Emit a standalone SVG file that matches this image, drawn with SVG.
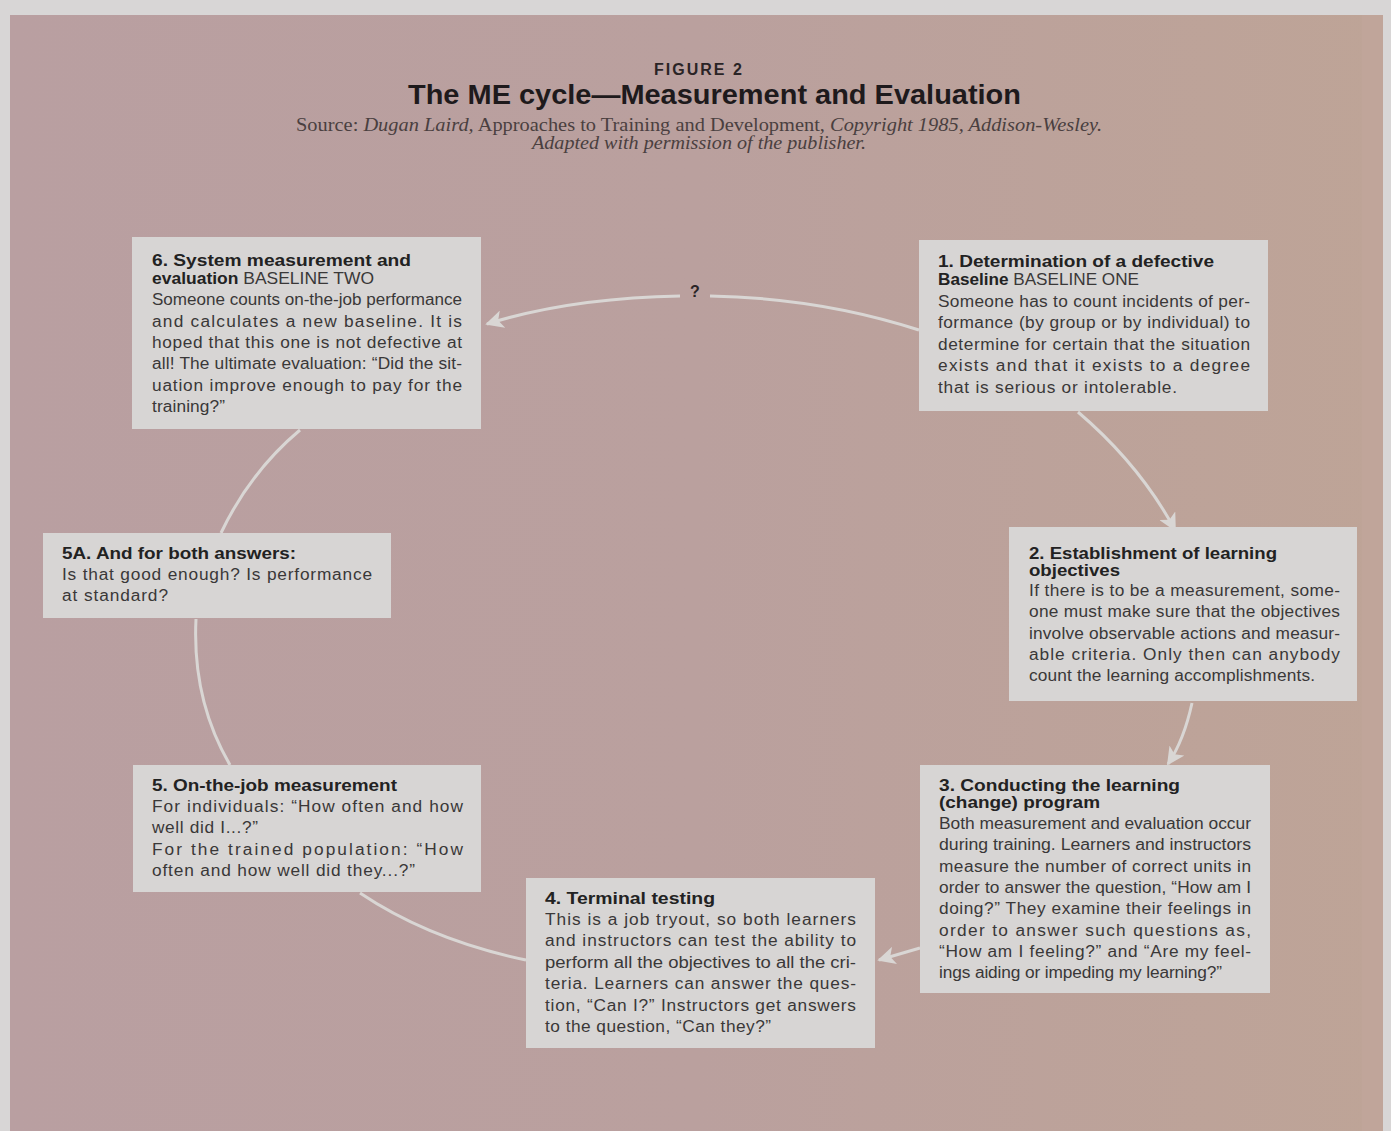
<svg xmlns="http://www.w3.org/2000/svg" width="1391" height="1131" viewBox="0 0 1391 1131">
<defs>
<style>
.box{fill:#d7d5d4;}
.h{font-family:"Liberation Sans",Arial,sans-serif;font-weight:bold;font-size:17px;fill:#222;}
.b{font-family:"Liberation Sans",Arial,sans-serif;font-size:17.3px;fill:#3a3838;}
.r{font-weight:normal;fill:#3a3838;}
.con{fill:none;stroke:#d9d6d4;stroke-width:3;}
.src{font-family:"Liberation Serif","Times New Roman",serif;font-size:18px;fill:#4a3f40;}
.it{font-style:italic;}
</style>
<marker id="arr" viewBox="0 0 10 10" refX="9" refY="5" markerWidth="6" markerHeight="6" markerUnits="strokeWidth" orient="auto">
<path d="M0,0 L10,5 L0,10 L2.5,5 Z" fill="#d9d6d4"/>
</marker>
<linearGradient id="bg" x1="0" y1="0" x2="1" y2="0">
<stop offset="0" stop-color="#b99fa1"/>
<stop offset="0.5" stop-color="#baa09e"/>
<stop offset="1" stop-color="#bea497"/>
</linearGradient>
</defs>
<rect x="0" y="0" width="1391" height="1131" fill="#d8d6d6"/>
<rect x="10" y="15" width="1373" height="1116" fill="url(#bg)"/>
<rect x="1362" y="15" width="21" height="1116" fill="#c0a59a"/>

<g id="title">
<text x="699" y="75" text-anchor="middle" font-family="'Liberation Sans',Arial,sans-serif" font-weight="bold" font-size="16px" letter-spacing="2" fill="#2a2426">FIGURE 2</text>
<text x="408" y="104" textLength="613" lengthAdjust="spacingAndGlyphs" font-family="'Liberation Sans',Arial,sans-serif" font-weight="bold" font-size="27px" fill="#1e1a1c">The ME cycle—Measurement and Evaluation</text>
<text class="src" x="296" y="131" textLength="806" lengthAdjust="spacingAndGlyphs">Source: <tspan class="it">Dugan Laird,</tspan> Approaches to Training and Development, <tspan class="it">Copyright 1985, Addison-Wesley.</tspan></text>
<text class="src it" x="532" y="149" textLength="334" lengthAdjust="spacingAndGlyphs">Adapted with permission of the publisher.</text>
</g>

<g id="connectors">
<path class="con" d="M919,330 Q820,298 710,296"/>
<path class="con" d="M680,296 Q570,298 487,324" marker-end="url(#arr)"/>
<path class="con" d="M1078,412 Q1140,465 1175,530" marker-end="url(#arr)"/>
<path class="con" d="M1192,703 Q1184,740 1168,764" marker-end="url(#arr)"/>
<path class="con" d="M920,948 L879,960" marker-end="url(#arr)"/>
<path class="con" d="M526,960 Q430,940 360,893"/>
<path class="con" d="M230,765 Q192,700 196,619"/>
<path class="con" d="M221,533 Q250,472 300,430"/>
<text x="695" y="297" text-anchor="middle" font-family="'Liberation Sans',Arial,sans-serif" font-weight="bold" font-size="16px" fill="#2a2426">?</text>
</g>

<g id="node6">
<rect class="box" x="132" y="237" width="349" height="192"/>
<text class="h" x="152" y="266" textLength="259" lengthAdjust="spacingAndGlyphs">6. System measurement and</text>
<text class="h" x="152" y="284" textLength="222" lengthAdjust="spacingAndGlyphs">evaluation<tspan class="r"> BASELINE TWO</tspan></text>
<text class="b" x="152" y="305" textLength="310" lengthAdjust="spacingAndGlyphs">Someone counts on-the-job performance</text>
<text class="b" x="152" y="327" textLength="310" lengthAdjust="spacing">and calculates a new baseline. It is</text>
<text class="b" x="152" y="348" textLength="310" lengthAdjust="spacing">hoped that this one is not defective at</text>
<text class="b" x="152" y="369" textLength="310" lengthAdjust="spacing">all! The ultimate evaluation: “Did the sit-</text>
<text class="b" x="152" y="391" textLength="310" lengthAdjust="spacing">uation improve enough to pay for the</text>
<text class="b" x="152" y="412" textLength="73" lengthAdjust="spacing">training?”</text>
</g>

<g id="node1">
<rect class="box" x="919" y="240" width="349" height="171"/>
<text class="h" x="938" y="267" textLength="276" lengthAdjust="spacingAndGlyphs">1. Determination of a defective</text>
<text class="h" x="938" y="285" textLength="201" lengthAdjust="spacingAndGlyphs">Baseline<tspan class="r"> BASELINE ONE</tspan></text>
<text class="b" x="938" y="307" textLength="312" lengthAdjust="spacing">Someone has to count incidents of per-</text>
<text class="b" x="938" y="328" textLength="312" lengthAdjust="spacing">formance (by group or by individual) to</text>
<text class="b" x="938" y="350" textLength="312" lengthAdjust="spacing">determine for certain that the situation</text>
<text class="b" x="938" y="371" textLength="312" lengthAdjust="spacing">exists and that it exists to a degree</text>
<text class="b" x="938" y="393" textLength="239" lengthAdjust="spacing">that is serious or intolerable.</text>
</g>

<g id="node2">
<rect class="box" x="1009" y="527" width="348" height="174"/>
<text class="h" x="1029" y="559" textLength="248" lengthAdjust="spacingAndGlyphs">2. Establishment of learning</text>
<text class="h" x="1029" y="576" textLength="91" lengthAdjust="spacingAndGlyphs">objectives</text>
<text class="b" x="1029" y="596" textLength="311" lengthAdjust="spacing">If there is to be a measurement, some-</text>
<text class="b" x="1029" y="617" textLength="311" lengthAdjust="spacing">one must make sure that the objectives</text>
<text class="b" x="1029" y="639" textLength="311" lengthAdjust="spacing">involve observable actions and measur-</text>
<text class="b" x="1029" y="660" textLength="311" lengthAdjust="spacing">able criteria. Only then can anybody</text>
<text class="b" x="1029" y="681" textLength="286" lengthAdjust="spacing">count the learning accomplishments.</text>
</g>

<g id="node3">
<rect class="box" x="920" y="765" width="350" height="228"/>
<text class="h" x="939" y="791" textLength="241" lengthAdjust="spacingAndGlyphs">3. Conducting the learning</text>
<text class="h" x="939" y="808" textLength="161" lengthAdjust="spacingAndGlyphs">(change) program</text>
<text class="b" x="939" y="829" textLength="312" lengthAdjust="spacingAndGlyphs">Both measurement and evaluation occur</text>
<text class="b" x="939" y="850" textLength="312" lengthAdjust="spacingAndGlyphs">during training. Learners and instructors</text>
<text class="b" x="939" y="872" textLength="312" lengthAdjust="spacing">measure the number of correct units in</text>
<text class="b" x="939" y="893" textLength="312" lengthAdjust="spacing">order to answer the question, “How am I</text>
<text class="b" x="939" y="914" textLength="312" lengthAdjust="spacing">doing?” They examine their feelings in</text>
<text class="b" x="939" y="936" textLength="312" lengthAdjust="spacing">order to answer such questions as,</text>
<text class="b" x="939" y="957" textLength="312" lengthAdjust="spacing">“How am I feeling?” and “Are my feel-</text>
<text class="b" x="939" y="978" textLength="283" lengthAdjust="spacing">ings aiding or impeding my learning?”</text>
</g>

<g id="node4">
<rect class="box" x="526" y="878" width="349" height="170"/>
<text class="h" x="545" y="904" textLength="170" lengthAdjust="spacingAndGlyphs">4. Terminal testing</text>
<text class="b" x="545" y="925" textLength="311" lengthAdjust="spacing">This is a job tryout, so both learners</text>
<text class="b" x="545" y="946" textLength="311" lengthAdjust="spacing">and instructors can test the ability to</text>
<text class="b" x="545" y="968" textLength="311" lengthAdjust="spacingAndGlyphs">perform all the objectives to all the cri-</text>
<text class="b" x="545" y="989" textLength="311" lengthAdjust="spacing">teria. Learners can answer the ques-</text>
<text class="b" x="545" y="1011" textLength="311" lengthAdjust="spacing">tion, “Can I?” Instructors get answers</text>
<text class="b" x="545" y="1032" textLength="226" lengthAdjust="spacing">to the question, “Can they?”</text>
</g>

<g id="node5">
<rect class="box" x="133" y="765" width="348" height="127"/>
<text class="h" x="152" y="791" textLength="245" lengthAdjust="spacingAndGlyphs">5. On-the-job measurement</text>
<text class="b" x="152" y="812" textLength="311" lengthAdjust="spacing">For individuals: “How often and how</text>
<text class="b" x="152" y="833" textLength="106" lengthAdjust="spacing">well did I...?”</text>
<text class="b" x="152" y="855" textLength="311" lengthAdjust="spacing">For the trained population: “How</text>
<text class="b" x="152" y="876" textLength="263" lengthAdjust="spacing">often and how well did they...?”</text>
</g>

<g id="node5a">
<rect class="box" x="43" y="533" width="348" height="85"/>
<text class="h" x="62" y="559" textLength="234" lengthAdjust="spacingAndGlyphs">5A. And for both answers:</text>
<text class="b" x="62" y="580" textLength="310" lengthAdjust="spacing">Is that good enough? Is performance</text>
<text class="b" x="62" y="601" textLength="106" lengthAdjust="spacing">at standard?</text>
</g>
</svg>
